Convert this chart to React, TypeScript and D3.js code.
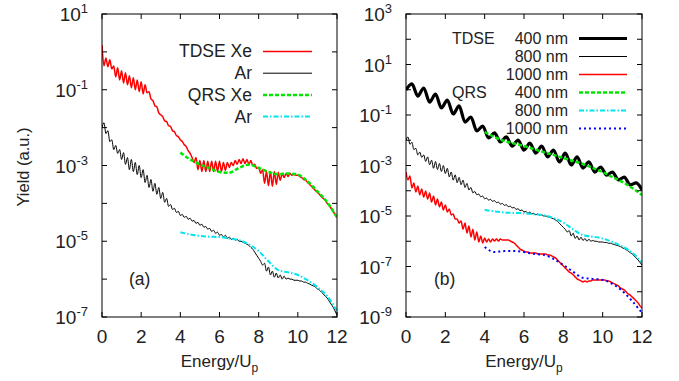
import React from 'react';
import * as d3 from 'd3';

// ---------- data (log10 of yield) ----------
const energyFine = d3.range(121).map((i) => i / 10); // 0..12 step 0.1
const energy400 = d3.range(41).map((i) => i * 0.3); // 0..12 step 0.3
const energyQrs = d3.range(17).map((i) => 4 + i * 0.5); // 4..12 step 0.5
const xTicks = [0, 2, 4, 6, 8, 10, 12];

const xeTdseLog = [
  0.18, -0.37, -0.16, -0.39, -0.21, -0.45, -0.37, -0.66, -0.42, -0.74,
  -0.5, -0.82, -0.55, -0.87, -0.63, -0.95, -0.68, -1.0, -0.74, -1.05,
  -0.79, -1.11, -0.87, -1.08, -1.05, -1.24, -1.29, -1.42, -1.45, -1.61,
  -1.66, -1.71, -1.82, -1.84, -1.95, -1.97, -2.08, -2.11, -2.21, -2.24,
  -2.32, -2.37, -2.45, -2.5, -2.61, -2.68, -2.79, -2.92, -2.79, -3.11,
  -2.87, -3.16, -2.87, -3.16, -2.89, -3.16, -2.89, -3.16, -2.89, -3.16,
  -2.89, -3.16, -2.92, -3.13, -2.92, -3.05, -2.92, -3.0, -2.87, -2.97,
  -2.84, -2.95, -2.82, -2.95, -2.84, -2.97, -2.87, -3.0, -2.97, -3.08,
  -3.05, -3.21, -3.11, -3.47, -3.16, -3.53, -3.16, -3.55, -3.16, -3.5,
  -3.18, -3.39, -3.21, -3.32, -3.21, -3.29, -3.21, -3.26, -3.24, -3.26,
  -3.26, -3.29, -3.32, -3.37, -3.39, -3.45, -3.5, -3.55, -3.61, -3.66,
  -3.71, -3.76, -3.82, -3.87, -3.92, -4.0, -4.05, -4.13, -4.21, -4.29,
  -4.37,
];

// Ar (left panel) == 800 nm (right panel)
const arTdseLog = [
  -2.0, -1.87, -2.16, -2.08, -2.37, -2.32, -2.58, -2.47, -2.68, -2.58,
  -2.84, -2.66, -2.97, -2.79, -3.11, -2.84, -3.16, -2.92, -3.24, -3.0,
  -3.32, -3.11, -3.45, -3.26, -3.58, -3.37, -3.68, -3.47, -3.76, -3.58,
  -3.87, -3.71, -3.97, -3.87, -4.08, -4.03, -4.16, -4.13, -4.24, -4.21,
  -4.32, -4.29, -4.37, -4.34, -4.42, -4.39, -4.47, -4.45, -4.53, -4.5,
  -4.58, -4.55, -4.63, -4.61, -4.68, -4.66, -4.74, -4.71, -4.79, -4.76,
  -4.84, -4.82, -4.89, -4.84, -4.92, -4.89, -4.95, -4.92, -4.97, -4.95,
  -5.0, -5.0, -5.03, -5.05, -5.08, -5.11, -5.16, -5.21, -5.29, -5.37,
  -5.45, -5.53, -5.63, -5.58, -5.79, -5.68, -5.89, -5.79, -5.95, -5.84,
  -5.97, -5.89, -6.0, -5.92, -6.0, -5.97, -6.0, -6.0, -6.03, -6.03,
  -6.03, -6.05, -6.05, -6.08, -6.08, -6.11, -6.13, -6.16, -6.18, -6.21,
  -6.26, -6.29, -6.34, -6.39, -6.45, -6.5, -6.58, -6.66, -6.74, -6.84,
  -6.95,
];

const qrsXeLog = [
  -2.66, -2.84, -2.97, -3.07, -3.17, -3.19, -3.06, -2.98, -3.06, -3.17,
  -3.23, -3.21, -3.24, -3.42, -3.68, -3.97, -4.37,
];
const qrsArLog = [
  -4.76, -4.82, -4.86, -4.88, -4.89, -4.93, -4.97, -5.08, -5.26, -5.53,
  -5.76, -5.82, -5.89, -6.03, -6.21, -6.45, -6.84,
];

const tdse400Log = [
  -0.01, 0.23, -0.25, 0.07, -0.49, -0.17, -0.72, -0.41, -0.96, -0.64,
  -1.28, -1.08, -1.63, -1.44, -1.91, -1.71, -2.07, -1.87, -2.23, -1.99,
  -2.39, -2.11, -2.51, -2.23, -2.66, -2.39, -2.86, -2.51, -2.98, -2.66,
  -3.1, -2.86, -3.26, -3.06, -3.38, -3.26, -3.57, -3.46, -3.77, -3.69,
  -3.97,
];
const qrs400Log = [
  -1.67, -1.87, -2.03, -2.13, -2.23, -2.35, -2.47, -2.58, -2.7, -2.82,
  -2.94, -3.1, -3.26, -3.46, -3.65, -3.89, -4.17,
];

const tdse1000Log = [
  -3.26, -3.57, -3.42, -3.89, -3.69, -4.05, -3.81, -4.16, -3.93, -4.25,
  -4.01, -4.33, -4.09, -4.45, -4.21, -4.56, -4.33, -4.64, -4.45, -4.76,
  -4.56, -4.84, -4.72, -4.96, -4.92, -5.12, -5.12, -5.28, -5.2, -5.52,
  -5.28, -5.67, -5.4, -5.83, -5.52, -5.95, -5.63, -6.03, -5.79, -6.07,
  -5.87, -6.03, -5.91, -6.03, -5.91, -5.99, -5.91, -5.99, -5.91, -5.95,
  -5.95, -5.95, -5.95, -5.99, -6.03, -6.07, -6.15, -6.23, -6.31, -6.35,
  -6.39, -6.43, -6.43, -6.47, -6.47, -6.47, -6.47, -6.5, -6.5, -6.5,
  -6.5, -6.5, -6.54, -6.54, -6.58, -6.62, -6.66, -6.74, -6.82, -6.9,
  -6.98, -7.06, -7.14, -7.22, -7.26, -7.33, -7.41, -7.49, -7.53, -7.57,
  -7.61, -7.57, -7.61, -7.57, -7.57, -7.53, -7.53, -7.53, -7.53, -7.53,
  -7.53, -7.53, -7.57, -7.57, -7.61, -7.65, -7.69, -7.73, -7.77, -7.85,
  -7.89, -7.93, -8.01, -8.09, -8.13, -8.21, -8.28, -8.36, -8.44, -8.56,
  -8.64,
];
const qrs1000Log = [
  -6.23, -6.43, -6.39, -6.39, -6.43, -6.5, -6.54, -6.7, -6.94, -7.21,
  -7.45, -7.49, -7.53, -7.69, -7.97, -8.37, -8.84,
];

// ---------- styles ----------
const FONT = '"Liberation Sans", Arial, Helvetica, sans-serif';
const GREEN = '#00e600';
const CYAN = '#00e5ee';
const RED = '#ff0000';
const BLUE = '#0000ff';

type Series = {
  xs: number[];
  logs: number[];
  color: string;
  width: number;
  dash?: string;
};

type LegendRow = { head?: string; label: string; color: string; width: number; dash?: string };

type PanelProps = {
  id: string;
  x0: number;
  x1: number;
  y0: number;
  y1: number;
  expMin: number;
  expMax: number;
  labeled: number[];
  series: Series[];
  legend: LegendRow[];
  legendHeadX: number;
  legendTextX: number;
  legendLine: [number, number];
  legendY0: number;
  legendDy: number;
  legendFont: number;
  tag: string;
  tagX: number;
};

function Panel(p: PanelProps) {
  const x = d3.scaleLinear().domain([0, 12]).range([p.x0, p.x1]);
  const y = d3
    .scaleLog()
    .domain([Math.pow(10, p.expMin), Math.pow(10, p.expMax)])
    .range([p.y1, p.y0]);
  const line = d3
    .line<[number, number]>()
    .x((d) => x(d[0]))
    .y((d) => y(Math.pow(10, d[1])))
    .curve(d3.curveMonotoneX);
  const exps = d3.range(p.expMin, p.expMax + 1);
  const tick = 5;
  const cx = (p.x0 + p.x1) / 2;
  return (
    <g>
      <defs>
        <clipPath id={p.id}>
          <rect x={p.x0} y={p.y0} width={p.x1 - p.x0} height={p.y1 - p.y0} />
        </clipPath>
      </defs>
      <g clipPath={`url(#${p.id})`}>
        {p.series.map((s, i) => (
          <path
            key={i}
            d={line(s.xs.map((v, j) => [v, s.logs[j]] as [number, number])) || ''}
            fill="none"
            stroke={s.color}
            strokeWidth={s.width}
            strokeDasharray={s.dash}
            strokeLinejoin="round"
          />
        ))}
      </g>
      <rect x={p.x0} y={p.y0} width={p.x1 - p.x0} height={p.y1 - p.y0} fill="none" stroke="#000" strokeWidth={1} />
      {exps.map((e) => {
        const yy = y(Math.pow(10, e));
        return (
          <g key={'y' + e}>
            <line x1={p.x0} x2={p.x0 + tick} y1={yy} y2={yy} stroke="#000" />
            <line x1={p.x1 - tick} x2={p.x1} y1={yy} y2={yy} stroke="#000" />
            {p.labeled.includes(e) && (
              <text x={p.x0 - 14} y={yy + 7} textAnchor="end" fontSize={19} fontFamily={FONT} fill="#222">
                10
                <tspan dy={-8} fontSize={13}>
                  {String(e)}
                </tspan>
              </text>
            )}
          </g>
        );
      })}
      {xTicks.map((t) => (
        <g key={'x' + t}>
          <line x1={x(t)} x2={x(t)} y1={p.y1} y2={p.y1 - tick} stroke="#000" />
          <line x1={x(t)} x2={x(t)} y1={p.y0} y2={p.y0 + tick} stroke="#000" />
          <text x={x(t)} y={p.y1 + 26} textAnchor="middle" fontSize={19} fontFamily={FONT} fill="#222">
            {t}
          </text>
        </g>
      ))}
      <text x={cx} y={367} textAnchor="middle" fontSize={17} fontFamily={FONT} fill="#222">
        Energy/U
        <tspan dy={5} fontSize={12}>
          p
        </tspan>
      </text>
      <text x={p.tagX} y={285} fontSize={17.5} fontFamily={FONT} fill="#222">
        {p.tag}
      </text>
      {p.legend.map((r, i) => {
        const yy = p.legendY0 + i * p.legendDy;
        return (
          <g key={'l' + i}>
            {r.head && (
              <text x={p.legendHeadX} y={yy + p.legendFont * 0.34} fontSize={p.legendFont} fontFamily={FONT} fill="#222">
                {r.head}
              </text>
            )}
            <text
              x={p.legendTextX}
              y={yy + p.legendFont * 0.34}
              textAnchor="end"
              fontSize={p.legendFont}
              fontFamily={FONT}
              fill="#222"
            >
              {r.label}
            </text>
            <line
              x1={p.legendLine[0]}
              x2={p.legendLine[1]}
              y1={yy}
              y2={yy}
              stroke={r.color}
              strokeWidth={r.width}
              strokeDasharray={r.dash}
            />
          </g>
        );
      })}
    </g>
  );
}

export default function App() {
  const leftSeries: Series[] = [
    { xs: energyFine, logs: xeTdseLog, color: RED, width: 1.5 },
    { xs: energyFine, logs: arTdseLog, color: '#000', width: 1 },
    { xs: energyQrs, logs: qrsXeLog, color: GREEN, width: 2.5, dash: '4,2' },
    { xs: energyQrs, logs: qrsArLog, color: CYAN, width: 2, dash: '5,2,1.5,2' },
  ];
  const rightSeries: Series[] = [
    { xs: energy400, logs: tdse400Log, color: '#000', width: 3.2 },
    { xs: energyFine, logs: arTdseLog, color: '#000', width: 1 },
    { xs: energyFine, logs: tdse1000Log, color: RED, width: 1.5 },
    { xs: energyQrs, logs: qrs400Log, color: GREEN, width: 2.5, dash: '4,2' },
    { xs: energyQrs, logs: qrsArLog, color: CYAN, width: 2, dash: '5,2,1.5,2' },
    { xs: energyQrs, logs: qrs1000Log, color: BLUE, width: 2, dash: '2,3' },
  ];
  const leftLegend: LegendRow[] = [
    { label: 'TDSE Xe', color: RED, width: 1.5 },
    { label: 'Ar', color: '#000', width: 1 },
    { label: 'QRS Xe', color: GREEN, width: 2.5, dash: '4,2' },
    { label: 'Ar', color: CYAN, width: 2, dash: '5,2,1.5,2' },
  ];
  const rightLegend: LegendRow[] = [
    { head: 'TDSE', label: '400 nm', color: '#000', width: 3.2 },
    { label: '800 nm', color: '#000', width: 1 },
    { label: '1000 nm', color: RED, width: 1.5 },
    { head: 'QRS', label: '400 nm', color: GREEN, width: 2.5, dash: '4,2' },
    { label: '800 nm', color: CYAN, width: 2, dash: '5,2,1.5,2' },
    { label: '1000 nm', color: BLUE, width: 2, dash: '2,3' },
  ];
  return (
    <svg
      width={679}
      height={381}
      viewBox="0 0 679 381"
      style={{ position: 'absolute', left: 0, top: 0, background: '#fff' }}
    >
      <rect x={0} y={0} width={679} height={381} fill="#fff" />
      <text
        transform="translate(29,167) rotate(-90)"
        textAnchor="middle"
        fontSize={16.5}
        fontFamily={FONT}
        fill="#222"
      >
        Yield (a.u.)
      </text>
      <Panel
        id="clipA"
        x0={102}
        x1={337}
        y0={14}
        y1={317}
        expMin={-7}
        expMax={1}
        labeled={[1, -1, -3, -5, -7]}
        series={leftSeries}
        legend={leftLegend}
        legendHeadX={0}
        legendTextX={252}
        legendLine={[263, 312]}
        legendY0={51.5}
        legendDy={21.7}
        legendFont={17.5}
        tag="(a)"
        tagX={129}
      />
      <Panel
        id="clipB"
        x0={406}
        x1={642}
        y0={14}
        y1={317}
        expMin={-9}
        expMax={3}
        labeled={[3, 1, -1, -3, -5, -7, -9]}
        series={rightSeries}
        legend={rightLegend}
        legendHeadX={452}
        legendTextX={568}
        legendLine={[579, 627]}
        legendY0={38.5}
        legendDy={18}
        legendFont={16}
        tag="(b)"
        tagX={434}
      />
    </svg>
  );
}
